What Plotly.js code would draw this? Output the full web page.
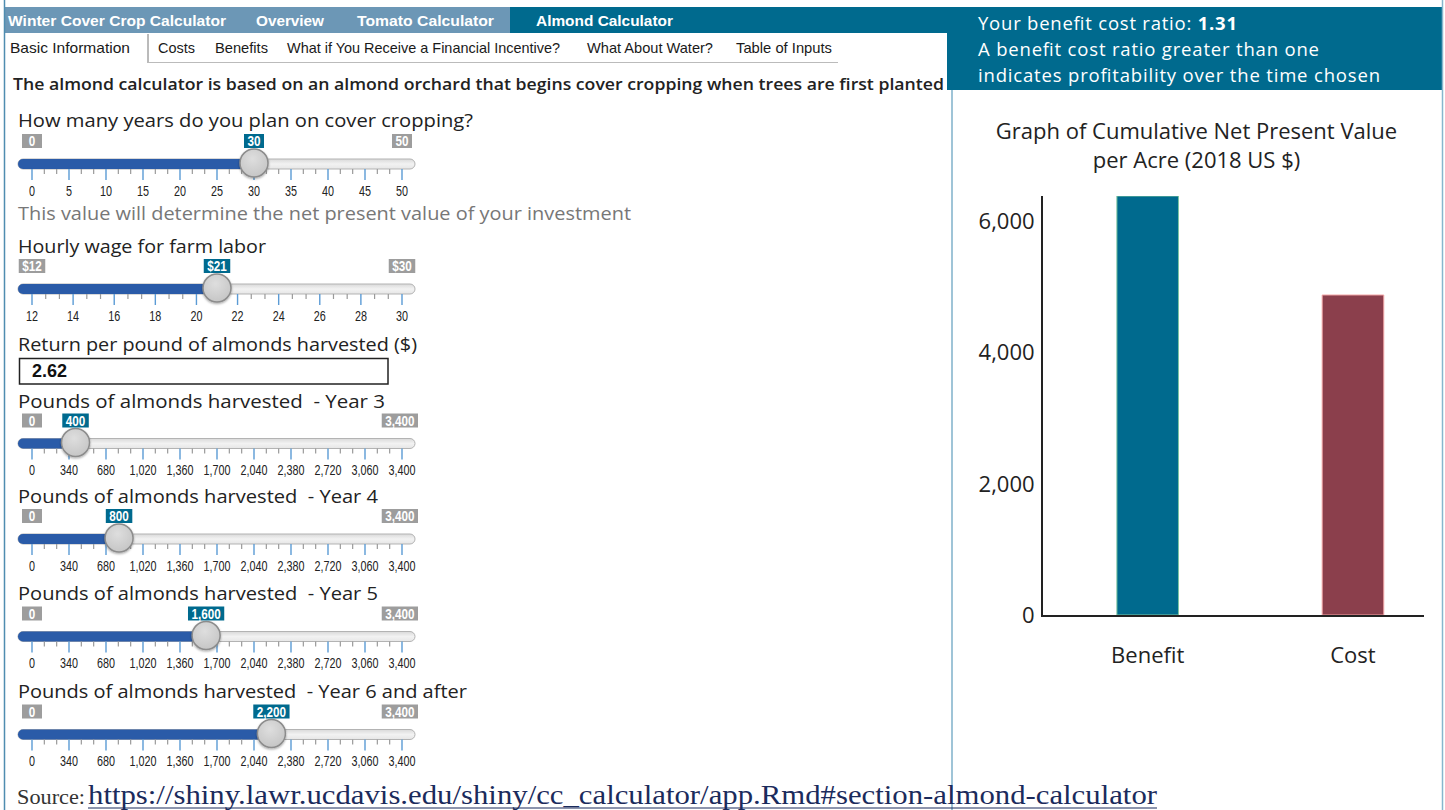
<!DOCTYPE html>
<html>
<head>
<meta charset="utf-8">
<script src="https://cdn.plot.ly/plotly-3.0.1.min.js"></script>
<style>
html,body{margin:0;padding:0;background:#fff;width:1445px;height:810px;overflow:hidden;}
#ui{position:absolute;left:0;top:0;}
#ui text{white-space:pre;}
#chart{position:absolute;left:952px;top:90px;width:489px;height:700px;}
</style>
</head>
<body>
<svg id="ui" width="1445" height="810" xmlns="http://www.w3.org/2000/svg"></svg>
<div id="chart"></div>
<script>
// ---------------- data ----------------
const categories = ['Benefit', 'Cost'];
const npvValues = [6390, 4880];
const benefitCostRatio = '1.31';
const chartTitle = 'Graph of Cumulative Net Present Value<br>per Acre (2018 US $)';
const yTickValues = [0, 2000, 4000, 6000];

const navItems = ['Winter Cover Crop Calculator', 'Overview', 'Tomato Calculator', 'Almond Calculator'];
const tabItems = ['Basic Information', 'Costs', 'Benefits', 'What if You Receive a Financial Incentive?', 'What About Water?', 'Table of Inputs'];
const headingText = 'The almond calculator is based on an almond orchard that begins cover cropping when trees are first planted';

const sliderLabels = ['How many years do you plan on cover cropping?', 'Hourly wage for farm labor',
  'Pounds of almonds harvested  - Year 3', 'Pounds of almonds harvested  - Year 4',
  'Pounds of almonds harvested  - Year 5', 'Pounds of almonds harvested  - Year 6 and after'];
const sliderMins = [0, 12, 0, 0, 0, 0];
const sliderMaxs = [50, 30, 3400, 3400, 3400, 3400];
const sliderValues = [30, 21, 400, 800, 1600, 2200];
const sliderPrefixes = ['', '$', '', '', '', ''];
const yearTicks = ['0', '5', '10', '15', '20', '25', '30', '35', '40', '45', '50'];
const wageTicks = ['12', '14', '16', '18', '20', '22', '24', '26', '28', '30'];
const poundTicks = ['0', '340', '680', '1,020', '1,360', '1,700', '2,040', '2,380', '2,720', '3,060', '3,400'];
const sliderTicks = [yearTicks, wageTicks, poundTicks, poundTicks, poundTicks, poundTicks];
const yearsNote = 'This value will determine the net present value of your investment';
const returnLabel = 'Return per pound of almonds harvested ($)';
const returnPerPound = '2.62';
const sourceUrl = 'https://shiny.lawr.ucdavis.edu/shiny/cc_calculator/app.Rmd#section-almond-calculator';

// ---------------- layout / style ----------------
const TEAL = '#006a8e';
const SANS = "'Open Sans','Noto Sans',sans-serif";
const ARIAL = "'Liberation Sans',Arial,sans-serif";
const SERIF = "'Liberation Serif','DejaVu Serif',serif";
const NS = 'http://www.w3.org/2000/svg';
const svg = document.getElementById('ui');
function el(tag, attrs, parent, text) {
  const e = document.createElementNS(NS, tag);
  for (const k in attrs) e.setAttribute(k, attrs[k]);
  if (text != null) e.textContent = text;
  (parent || svg).appendChild(e);
  return e;
}
function fmt(v) { return v.toLocaleString('en-US'); }

const defs = el('defs', {});
const filt = el('filter', {id: 'sh', x: '-30%', y: '-30%', width: '160%', height: '170%'}, defs);
el('feDropShadow', {dx: 0, dy: 1.2, stdDeviation: 1.1, 'flood-color': '#000', 'flood-opacity': 0.35}, filt);
const tg = el('linearGradient', {id: 'trk', x1: 0, y1: 0, x2: 0, y2: 1}, defs);
el('stop', {offset: '0', 'stop-color': '#d9d9d9'}, tg);
el('stop', {offset: '0.5', 'stop-color': '#f2f2f2'}, tg);
el('stop', {offset: '1', 'stop-color': '#e6e6e6'}, tg);
const hg = el('radialGradient', {id: 'hdl', cx: '0.45', cy: '0.35', r: '0.7'}, defs);
el('stop', {offset: '0', 'stop-color': '#dedede'}, hg);
el('stop', {offset: '1', 'stop-color': '#c4c4c4'}, hg);

// borders and header bars
el('rect', {x: 5, y: 7, width: 505, height: 26, fill: '#6c97b6'});
el('rect', {x: 510, y: 7, width: 442, height: 26, fill: TEAL});
el('rect', {x: 947, y: 7, width: 495, height: 83, fill: TEAL});
el('line', {x1: 4.5, y1: 0, x2: 4.5, y2: 810, stroke: '#4f8db0', 'stroke-width': 1.5});
el('line', {x1: 1442.5, y1: 0, x2: 1442.5, y2: 810, stroke: '#86b6cd', 'stroke-width': 1.5});
el('line', {x1: 952, y1: 90, x2: 952, y2: 810, stroke: '#7fb1ca', 'stroke-width': 1.5});

// nav
const navX = [8, 256, 357, 536], navW = [218, 68, 137, 137];
navItems.forEach((t, i) => el('text', {x: navX[i], y: 25.5, 'font-family': ARIAL, 'font-size': 15, 'font-weight': 'bold',
  fill: '#fff', textLength: navW[i], lengthAdjust: 'spacingAndGlyphs'}, null, t));

// tabs
const tabX = [10, 158, 215, 287, 587, 736], tabW = [120, 37, 53, 273, 126, 96];
tabItems.forEach((t, i) => el('text', {x: tabX[i], y: 53, 'font-family': ARIAL, 'font-size': 14.5,
  fill: '#1a1a1a', textLength: tabW[i], lengthAdjust: 'spacingAndGlyphs'}, null, t));
el('line', {x1: 148, y1: 34, x2: 148, y2: 63, stroke: '#777', 'stroke-width': 1});
el('line', {x1: 148, y1: 62.5, x2: 838, y2: 62.5, stroke: '#bbb', 'stroke-width': 1});

// heading
el('text', {x: 13, y: 89.5, 'font-family': SANS, 'font-size': 17, 'font-weight': 600, fill: '#222',
  textLength: 931, lengthAdjust: 'spacingAndGlyphs'}, null, headingText);

// right header
const r1 = el('text', {x: 978, y: 30, 'font-family': SANS, 'font-size': 18.5, fill: '#fff', textLength: 259, lengthAdjust: 'spacing'});
el('tspan', {}, r1, 'Your benefit cost ratio: ');
el('tspan', {'font-weight': 'bold'}, r1, benefitCostRatio);
el('text', {x: 978, y: 56, 'font-family': SANS, 'font-size': 18.5, fill: '#fff', textLength: 341, lengthAdjust: 'spacing'}, null,
  'A benefit cost ratio greater than one');
el('text', {x: 978, y: 82, 'font-family': SANS, 'font-size': 18.5, fill: '#fff', textLength: 402, lengthAdjust: 'spacing'}, null,
  'indicates profitability over the time chosen');

// sliders
const labelY = [126.7, 252.7, 408.3, 503.3, 600, 698.3];
const labelW = [455, 248, 367, 360, 360, 449];
const trackY = [164, 289, 443.5, 539, 636.5, 734.5];
const GX0 = 32, GX1 = 402, TX0 = 18, TX1 = 415;

function condText(x, y, str, size, weight, fill, sx) {
  const g = el('g', {transform: `translate(${x},${y}) scale(${sx},1)`});
  return el('text', {x: 0, y: 0, 'font-family': ARIAL, 'font-size': size, 'font-weight': weight,
    fill: fill, 'text-anchor': 'middle'}, g, str);
}
function box(cx, top, str, color) {
  const sx = 0.78;
  const t = condText(0, 0, str, 15, 'bold', '#fff', sx);
  const w = Math.max(20, t.getComputedTextLength() * sx + 7);
  let left = cx - w / 2;
  if (left < 12) left = 12;
  if (left + w > 418) left = 418 - w;
  const r = el('rect', {x: left, y: top, width: w, height: 14, fill: color});
  svg.insertBefore(r, t.parentNode);
  t.parentNode.setAttribute('transform', `translate(${left + w / 2},${top + 12}) scale(${sx},1)`);
}

sliderLabels.forEach((lab, i) => {
  const ty = trackY[i];
  el('text', {x: 18, y: labelY[i], 'font-family': SANS, 'font-size': 18, fill: '#222',
    textLength: labelW[i], lengthAdjust: 'spacingAndGlyphs'}, null, lab);
  const mn = sliderMins[i], mx = sliderMaxs[i], v = sliderValues[i];
  const hx = GX0 + (v - mn) / (mx - mn) * (GX1 - GX0);
  el('rect', {x: TX0, y: ty - 5, width: TX1 - TX0, height: 10, rx: 5, fill: 'url(#trk)', stroke: '#b3b3b3', 'stroke-width': 1});
  el('rect', {x: TX0, y: ty - 5, width: hx - TX0, height: 10, rx: 5, fill: '#2a5ba8'});
  const ticks = sliderTicks[i], n = ticks.length - 1, step = (GX1 - GX0) / n;
  ticks.forEach((tl, j) => {
    const x = GX0 + j * step;
    el('line', {x1: x, y1: ty + 5, x2: x, y2: ty + 16, stroke: '#5b9bd5', 'stroke-width': 1.4});
    if (j < n) for (let k = 1; k <= 2; k++) {
      const xm = x + k * step / 3;
      el('line', {x1: xm, y1: ty + 5, x2: xm, y2: ty + 10, stroke: '#9a9a9a', 'stroke-width': 1.2});
    }
    condText(x, ty + 31.5, tl, 15, 'normal', '#222', 0.72);
  });
  el('circle', {cx: hx, cy: ty - 1, r: 14, fill: 'url(#hdl)', stroke: '#8c8c8c', 'stroke-width': 1.5, filter: 'url(#sh)'});
  const p = sliderPrefixes[i];
  box(GX0, ty - 30, p + fmt(mn), '#9d9d9d');
  box(GX1, ty - 30, p + fmt(mx), '#9d9d9d');
  box(hx, ty - 30, p + fmt(v), TEAL);
});

// years note
el('text', {x: 18, y: 220, 'font-family': SANS, 'font-size': 18, fill: '#777',
  textLength: 613, lengthAdjust: 'spacingAndGlyphs'}, null, yearsNote);

// return input
el('text', {x: 18, y: 350.7, 'font-family': SANS, 'font-size': 18, fill: '#222',
  textLength: 399, lengthAdjust: 'spacingAndGlyphs'}, null, returnLabel);
el('rect', {x: 19.5, y: 358.5, width: 368.5, height: 25.5, fill: '#fff', stroke: '#222', 'stroke-width': 1.5});
el('text', {x: 32, y: 377, 'font-family': ARIAL, 'font-size': 18, 'font-weight': 'bold', fill: '#111'}, null, returnPerPound);

// source
el('text', {x: 17, y: 804, 'font-family': SERIF, 'font-size': 21, fill: '#333', textLength: 68, lengthAdjust: 'spacingAndGlyphs'}, null, 'Source:');
el('text', {x: 88, y: 804, 'font-family': SERIF, 'font-size': 28, fill: '#1b2b5c', textLength: 1069, lengthAdjust: 'spacingAndGlyphs'}, null, sourceUrl);
el('line', {x1: 88, y1: 808, x2: 1157, y2: 808, stroke: '#1b2b5c', 'stroke-width': 1.2});

// ---------------- chart ----------------
Plotly.newPlot('chart', [{
  type: 'bar',
  x: categories,
  y: npvValues,
  width: 0.3,
  marker: {color: ['#006a8e', '#8b3f4c'], line: {color: ['#7cc6a2', '#f2a5a5'], width: 1}},
  hoverinfo: 'none'
}], {
  width: 489, height: 700,
  margin: {l: 91, r: 17, t: 106, b: 175},
  paper_bgcolor: 'rgba(0,0,0,0)', plot_bgcolor: 'rgba(0,0,0,0)',
  font: {family: SANS, size: 22, color: '#222'},
  title: {text: chartTitle, x: 0.5, xref: 'container', xanchor: 'center', y: 0.93, yref: 'container', yanchor: 'middle',
    font: {family: SANS, size: 22, color: '#222'}},
  xaxis: {type: 'category', range: [-0.51, 1.346], showline: true, linecolor: '#222', linewidth: 2,
    showgrid: false, zeroline: false, ticks: '', ticklabelstandoff: 20, tickfont: {size: 22, color: '#222'}},
  yaxis: {range: [0, 6390], showline: true, linecolor: '#222', linewidth: 2, showgrid: false, zeroline: false,
    tickvals: yTickValues, tickformat: ',d', ticks: '', ticklabelstandoff: 2, tickfont: {size: 22, color: '#222'}},
  showlegend: false
}, {displayModeBar: false, staticPlot: true});
</script>
</body>
</html>
